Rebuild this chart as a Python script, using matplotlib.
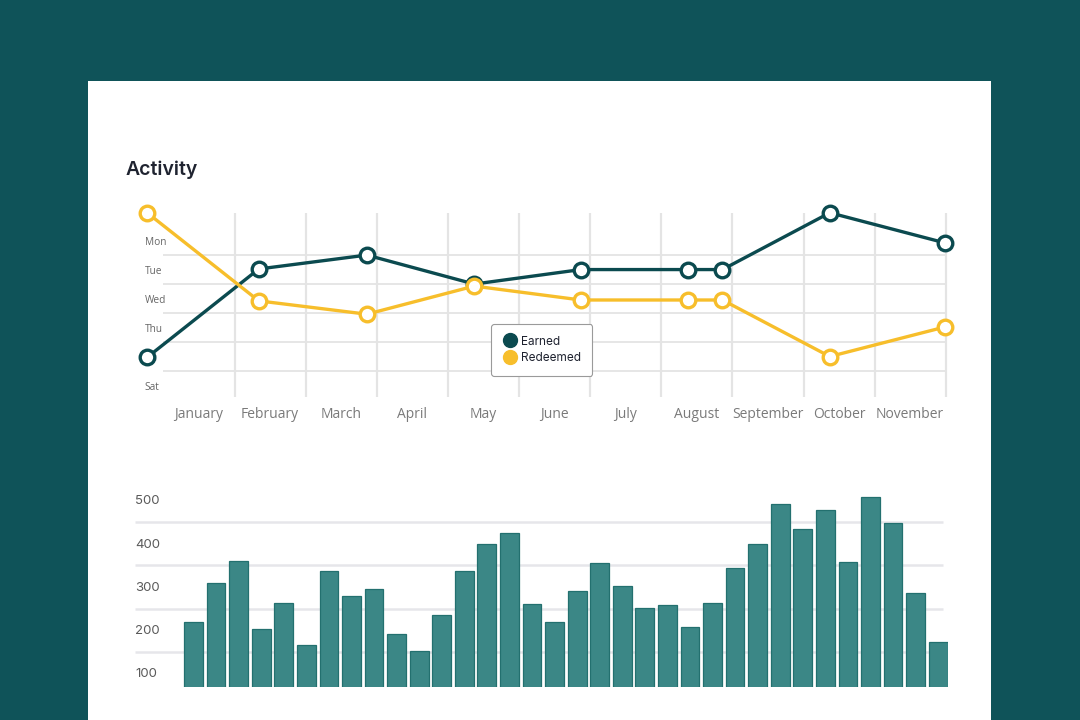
import numpy as np
import matplotlib.pyplot as plt
from matplotlib.patches import Rectangle
from matplotlib.lines import Line2D
from matplotlib.transforms import ScaledTranslation

# --- data -----------------------------------------------------------------
months = ["January", "February", "March", "April", "May", "June",
          "July", "August", "September", "October", "November"]
days = ["Mon", "Tue", "Wed", "Thu", "Fri", "Sat"]

# x position in month units, y position in day units (Mon = 0)
point_pos = [-0.73, 0.84, 2.36, 3.87, 5.37, 6.88, 7.36, 8.87, 10.49]
earned = [4.03, 0.98, 0.50, 1.50, 1.00, 1.00, 1.00, -0.96, 0.08]
redeemed = [-0.96, 2.08, 2.54, 1.57, 2.05, 2.05, 2.05, 4.00, 2.98]

bar_values = [169, 259, 311, 153, 214, 115, 287, 230, 246, 142,
              102, 185, 287, 349, 375, 211, 169, 241, 305, 252,
              201, 209, 157, 214, 293, 349, 441, 383, 428, 307,
              457, 399, 237, 122]
bar_ticks = [100, 200, 300, 400, 500]

# --- colours --------------------------------------------------------------
BG = "#0F5359"
DARK = "#0B4A4F"
YELLOW = "#F7BE2B"
BAR = "#3B8786"
BAR_EDGE = "#23706F"
GRID = "#E4E4E4"

W, H = 1080, 720
fig = plt.figure(figsize=(10.8, 7.2), dpi=100)
fig.patch.set_facecolor(BG)

def px_axes(left, top, right, bottom):
    return fig.add_axes([left / W, 1 - bottom / H, (right - left) / W, (bottom - top) / H])

# white card
fig.add_artist(Rectangle((88 / W, 0), (991 - 88) / W, 1 - 81 / H,
                         transform=fig.transFigure, facecolor="white",
                         edgecolor="none", zorder=0))

fig.text(126 / W, 1 - 170 / H, "Activity", family="Inter", weight="semibold",
         fontsize=14, color="#1f2330", va="center", ha="left")

# --- line chart -----------------------------------------------------------
ax = px_axes(140, 200, 950, 400)
ax.set_facecolor("none")
for s in ax.spines.values():
    s.set_visible(False)

ax.hlines(np.arange(0.5, 5), -0.51, 10.5, color=GRID, lw=1.3, zorder=1)
ax.vlines(np.arange(0.5, 11), -0.95, 5.4, color=GRID, lw=1.6, zorder=1)

ax.plot(point_pos, earned, color=DARK, lw=2.4, marker="o", ms=10.5,
        mfc="white", mec=DARK, mew=2.4, clip_on=False, zorder=3)
ax.plot(point_pos, redeemed, color=YELLOW, lw=2.4, marker="o", ms=10.5,
        mfc="white", mec=YELLOW, mew=2.4, clip_on=False, zorder=3)

ax.set_xticks(range(len(months)))
ax.set_xticklabels(months, family="Open Sans", fontsize=10, color="#7a7a7a")
ax.set_yticks(range(len(days)))
ax.set_yticklabels(days, family="Open Sans", fontsize=7.3, color="#666666", ha="left")
ax.tick_params(axis="x", length=0, pad=5)
ax.tick_params(axis="y", length=0, pad=-3.5)
ax.set_xlim(-0.83, 10.56)
ax.set_ylim(5.5, -1.4)

handles = [Line2D([], [], ls="none", marker="o", ms=10, mfc=DARK, mec=DARK),
           Line2D([], [], ls="none", marker="o", ms=10, mfc=YELLOW, mec=YELLOW)]
leg = ax.legend(handles, ["Earned", "Redeemed"], loc="center",
                bbox_to_anchor=(0.496, 0.25), frameon=True, fancybox=True,
                prop={"family": "Inter", "size": 8.5}, handletextpad=0.25,
                handlelength=1.3, borderpad=0.95, labelspacing=0.42,
                borderaxespad=0)
leg.get_frame().set_edgecolor("#9a9a9a")
leg.get_frame().set_linewidth(0.8)
leg.get_frame().set_alpha(1)
for t in leg.get_texts():
    t.set_color("#1f2330")

# --- bar chart ------------------------------------------------------------
bx = px_axes(135, 478.8, 947.5, 687)
bx.set_facecolor("none")
for s in bx.spines.values():
    s.set_visible(False)

bx.hlines(bar_ticks[:-1], -2.59, 33.23, color="#E6E6EA", lw=1.8, zorder=1)
bx.bar(np.arange(len(bar_values)), bar_values, width=0.83, color=BAR,
       edgecolor=BAR_EDGE, linewidth=0.9, zorder=2)

bx.set_xticks([])
bx.set_yticks(bar_ticks)
bx.set_yticklabels([str(v) for v in bar_ticks], family="Inter", fontsize=9.5,
                   color="#5a5a5a", ha="left")
bx.tick_params(axis="y", length=0, pad=0)
# labels sit in the band below their grid line
shift = ScaledTranslation(0, -21 / 100, fig.dpi_scale_trans)
for lab in bx.get_yticklabels():
    lab.set_transform(lab.get_transform() + shift)
bx.set_xlim(-2.59, 33.41)
bx.set_ylim(19, 500)

fig.savefig("out.png", dpi=100, facecolor=fig.get_facecolor())
